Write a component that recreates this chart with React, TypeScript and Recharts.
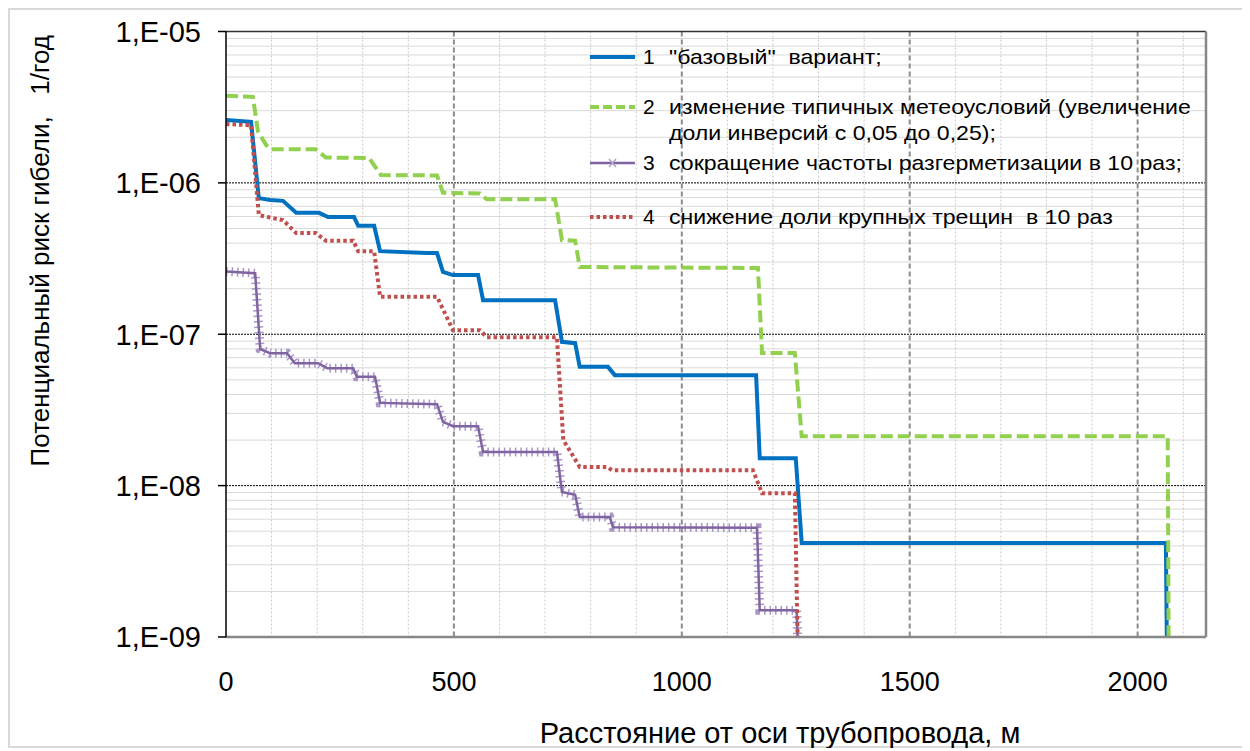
import React from 'react';
import { LineChart, Line, XAxis, YAxis, CartesianGrid, ReferenceLine } from 'recharts';

// distance from pipeline axis, m  /  individual risk, 1/year
const DIST_1 = [0, 55, 72, 97, 125, 154, 204, 224, 281, 290, 325, 338, 440, 463, 476, 498, 553, 564, 722, 737, 766, 776, 838, 853, 1163, 1171, 1250, 1263, 2062, 2064];
const RISK_1 = [2.6e-6, 2.53e-6, 7.93e-7, 7.7e-7, 7.61e-7, 6.34e-7, 6.34e-7, 5.94e-7, 5.94e-7, 5.21e-7, 5.21e-7, 3.54e-7, 3.44e-7, 3.44e-7, 2.585e-7, 2.46e-7, 2.46e-7, 1.68e-7, 1.68e-7, 8.91e-8, 8.73e-8, 6.09e-8, 6.09e-8, 5.37e-8, 5.37e-8, 1.517e-8, 1.517e-8, 4.18e-9, 4.18e-9, 1e-9];

const DIST_2 = [0, 59, 70, 88, 97, 197, 219, 314, 340, 463, 476, 557, 572, 722, 737, 766, 776, 1167, 1176, 1248, 1263, 2066, 2068];
const RISK_2 = [3.77e-6, 3.7e-6, 2.2e-6, 1.78e-6, 1.67e-6, 1.67e-6, 1.47e-6, 1.46e-6, 1.126e-6, 1.12e-6, 8.6e-7, 8.5e-7, 7.81e-7, 7.81e-7, 4.19e-7, 4.15e-7, 2.78e-7, 2.74e-7, 7.53e-8, 7.53e-8, 2.12e-8, 2.12e-8, 1e-9];

const DIST_3 = [0, 64, 75, 97, 134, 151, 202, 222, 279, 287, 327, 338, 463, 476, 498, 553, 564, 726, 737, 766, 776, 842, 849, 1165, 1171, 1252, 1254];
const RISK_3 = [2.6e-7, 2.53e-7, 7.97e-8, 7.5e-8, 7.5e-8, 6.44e-8, 6.44e-8, 5.97e-8, 5.97e-8, 5.23e-8, 5.23e-8, 3.52e-8, 3.45e-8, 2.64e-8, 2.47e-8, 2.47e-8, 1.67e-8, 1.67e-8, 9.09e-9, 8.7e-9, 6.21e-9, 6.21e-9, 5.3e-9, 5.27e-9, 1.5e-9, 1.5e-9, 1e-9];

const DIST_4 = [0, 55, 72, 97, 125, 154, 197, 219, 279, 290, 325, 338, 463, 498, 557, 572, 726, 740, 776, 836, 847, 1156, 1176, 1248, 1254];
const RISK_4 = [2.45e-6, 2.4e-6, 6.13e-7, 5.9e-7, 5.68e-7, 4.66e-7, 4.66e-7, 4.15e-7, 4.15e-7, 3.54e-7, 3.54e-7, 1.767e-7, 1.767e-7, 1.064e-7, 1.064e-7, 9.57e-8, 9.57e-8, 2.0e-8, 1.329e-8, 1.329e-8, 1.264e-8, 1.264e-8, 8.91e-9, 8.91e-9, 1e-9];

const X_TICKS = [0, 500, 1000, 1500, 2000];
const X_MINOR = [100, 200, 300, 400, 600, 700, 800, 900, 1100, 1200, 1300, 1400, 1600, 1700, 1800, 1900, 2100];
const Y_TICKS = [1e-9, 1e-8, 1e-7, 1e-6, 1e-5];
const Y_MAJOR = [1e-8, 1e-7, 1e-6];
const Y_MINOR = [-9, -8, -7, -6].flatMap(e => [2, 3, 4, 5, 6, 7, 8, 9].map(k => k * Math.pow(10, e)));

const LEGEND = [
  { num: '1', lines: ['"базовый"  вариант;'] },
  { num: '2', lines: ['изменение типичных метеоусловий (увеличение', 'доли инверсий с 0,05 до 0,25);'] },
  { num: '3', lines: ['сокращение частоты разгерметизации в 10 раз;'] },
  { num: '4', lines: ['снижение доли крупных трещин  в 10 раз'] },
];

const BLUE = '#0070C0';
const GREEN = '#92D050';
const PURPLE = '#8064A2';
const RED = '#C0504D';
const FONT = '"Liberation Sans", Arial, sans-serif';

const zip = (xs: number[], ys: number[]) => xs.map((x, i) => ({ x, y: ys[i] }));
const fmtExp = (v: number) => `1,E-${String(Math.round(-Math.log10(v))).padStart(2, '0')}`;

function LegendSample({ idx }: { idx: number }) {
  return (
    <svg width={53} height={10} style={{ display: 'block' }}>
      {idx === 0 && <line x1={0} x2={45} y1={5} y2={5} stroke={BLUE} strokeWidth={4} />}
      {idx === 1 && <line x1={0} x2={45} y1={5} y2={5} stroke={GREEN} strokeWidth={4} strokeDasharray="9 4" />}
      {idx === 2 && (
        <g>
          <line x1={0} x2={45} y1={5} y2={5} stroke={PURPLE} strokeWidth={2.5} />
          <path d="M19 1 L26 9 M26 1 L19 9" stroke="#b3a2c7" strokeWidth={1.5} />
        </g>
      )}
      {idx === 3 && <line x1={0} x2={45} y1={5} y2={5} stroke={RED} strokeWidth={4} strokeDasharray="3.5 3" />}
    </svg>
  );
}

export default function App() {
  const rowTop = [34, 84, 140, 194];
  return (
    <div style={{ position: 'relative', width: 1236, height: 740, border: '2px solid #d9d9d9', boxSizing: 'border-box', background: '#fff', fontFamily: FONT }}>
      <LineChart width={1232} height={736} margin={{ top: 21.5, right: 36, left: 0, bottom: 49 }}>
        <CartesianGrid horizontalValues={Y_MINOR} vertical={false} stroke="#d9d9d9" />
        <CartesianGrid verticalValues={X_MINOR} horizontal={false} stroke="#c8c8c8" strokeDasharray="2 2" />
        <CartesianGrid horizontalValues={Y_MAJOR} vertical={false} stroke="#000" strokeDasharray="2 1" />
        <CartesianGrid verticalValues={X_TICKS.slice(1)} horizontal={false} stroke="#8c8c8c" strokeWidth={2} strokeDasharray="5 3" />
        <XAxis
          dataKey="x"
          type="number"
          domain={[0, 2150]}
          ticks={X_TICKS}
          interval={0}
          allowDataOverflow
          height={60}
          tickLine={false}
          tickSize={8}
          tickMargin={27}
          axisLine={{ stroke: '#878787', strokeWidth: 2.5 }}
          tick={{ fontSize: 27, fill: '#000', fontFamily: FONT }}
        />
        <YAxis
          type="number"
          scale="log"
          domain={[1e-9, 1e-5]}
          ticks={Y_TICKS}
          interval={0}
          allowDataOverflow
          width={216}
          tickSize={8}
          tickMargin={17}
          tickFormatter={fmtExp}
          tickLine={{ stroke: '#000', strokeWidth: 1.5 }}
          axisLine={{ stroke: '#000', strokeWidth: 1.5 }}
          tick={{ fontSize: 29, fill: '#000', fontFamily: FONT }}
        />
        <ReferenceLine y={1e-5} stroke="#333" strokeWidth={1.5} />
        <ReferenceLine x={2150} stroke="#878787" strokeWidth={2.5} />
        <Line data={zip(DIST_1, RISK_1)} dataKey="y" type="linear" stroke={BLUE} strokeWidth={4} dot={false} isAnimationActive={false} />
        <Line data={zip(DIST_2, RISK_2)} dataKey="y" type="linear" stroke={GREEN} strokeWidth={4} strokeDasharray="12 5" dot={false} isAnimationActive={false} />
        {/* marker fuzz under the purple line */}
        <Line data={zip(DIST_3, RISK_3)} dataKey="y" type="linear" stroke="#ab98c8" strokeWidth={9} strokeDasharray="1.5 4" dot={false} isAnimationActive={false} legendType="none" />
        <Line data={zip(DIST_3, RISK_3)} dataKey="y" type="linear" stroke={PURPLE} strokeWidth={2.5} dot={false} isAnimationActive={false} />
        <Line data={zip(DIST_4, RISK_4)} dataKey="y" type="linear" stroke={RED} strokeWidth={4} strokeDasharray="3.5 3" dot={false} isAnimationActive={false} />
      </LineChart>

      {LEGEND.map((item, i) => (
        <div key={item.num} style={{ position: 'absolute', left: 580, top: rowTop[i], display: 'flex', alignItems: 'flex-start', fontSize: 21, lineHeight: '26px', color: '#000' }}>
          <div style={{ marginTop: 8 }}><LegendSample idx={i} /></div>
          <div style={{ width: 26 }}>{item.num}</div>
          <div style={{ whiteSpace: 'pre', transform: 'scaleX(1.1)', transformOrigin: 'left top' }}>
            {item.lines.map(l => <div key={l}>{l}</div>)}
          </div>
        </div>
      ))}

      <div style={{ position: 'absolute', left: 770, top: 723, transform: 'translate(-50%, -50%)', fontSize: 29, whiteSpace: 'nowrap', color: '#000' }}>
        Расстояние от оси трубопровода, м
      </div>
      <div style={{ position: 'absolute', left: 16, top: 25, transformOrigin: 'left top', transform: 'rotate(-90deg) translateX(-100%)', fontSize: 26, lineHeight: '28px', whiteSpace: 'pre', color: '#000' }}>
        {'Потенциальный риск гибели,   1/год'}
      </div>
    </div>
  );
}
